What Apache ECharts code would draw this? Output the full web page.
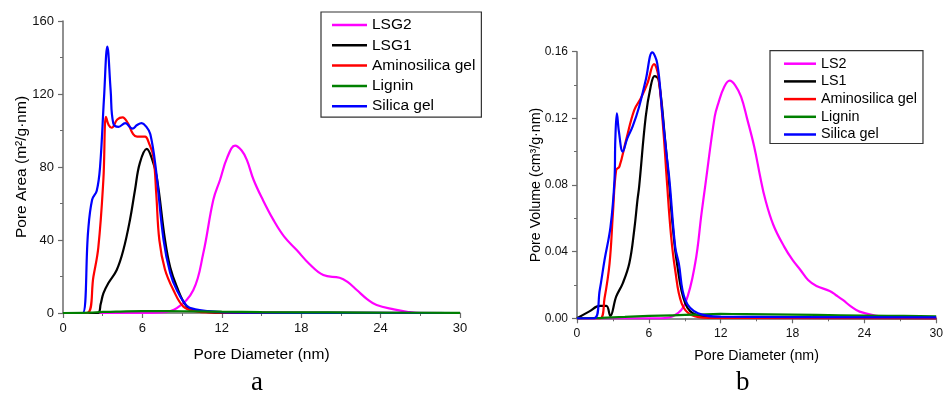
<!DOCTYPE html>
<html>
<head>
<meta charset="utf-8">
<script src="https://cdn.jsdelivr.net/npm/echarts@6/dist/echarts.min.js"></script>
<style>html,body{margin:0;padding:0;background:#fff}#c{width:946px;height:396px}</style>
</head>
<body>
<div id="c"></div>
<script>
// Panel a: Pore Area (m²/g·nm) vs Pore Diameter (nm), points [x, y]
const areaLSG2 = [[0,0],[6,0],[7.5,0.3],[8.6,2.7],[9.85,12.6],[10.6,32.7],[11.36,62],[11.87,73],[12.4,85],[13.0,91.7],[13.5,89],[13.9,83.8],[14.4,73],[15.1,62],[15.9,51],[16.7,42],[17.66,34.5],[18.6,27],[19.67,20.8],[20.9,19.3],[21.5,17],[22.2,12.6],[23.0,7.5],[23.7,4.4],[25,2],[26,0.7],[27,0],[30,0]];
const areaLSG1 = [[0,0],[2.62,0],[2.85,5],[3.05,10.8],[3.42,16.3],[4.06,23.6],[4.56,34.5],[5.06,51],[5.44,67.4],[5.8,82],[6.33,89.9],[6.7,85],[7.08,74.7],[7.71,40],[8.1,25],[8.6,14.4],[9.35,3.5],[10,1.5],[11,0.5],[12,0.2],[30,0]];
const areaAmino = [[0,0],[1.81,0],[2.3,20],[2.67,36],[3.05,73],[3.25,107.5],[3.45,103],[3.68,101.5],[4.1,106],[4.5,107.2],[4.9,104],[5.3,98],[5.6,96.6],[6.2,96.6],[6.5,93],[6.83,85.6],[7.05,65],[7.28,40],[7.7,24],[8.34,12.6],[9.1,3.5],[10,1],[11,0.3],[30,0]];
const areaLignin = [[0,0],[2,0.2],[3,0.6],[4,0.7],[6,1.0],[8,1.0],[10,0.9],[12,0.7],[15,0.5],[20,0.3],[25,0.15],[30,0.1]];
const areaSilica = [[0,0],[1.0,0],[1.49,0],[1.9,45],[2.2,62],[2.55,67],[2.8,80],[3.1,118],[3.35,146],[3.6,122],[3.8,104],[4.2,102],[4.7,104],[5.25,101],[5.6,103],[5.95,104],[6.3,102],[6.6,98],[7.0,80],[7.6,40],[8.1,22],[8.6,12.6],[9.35,4],[10,2],[11,1],[12,0.5],[15,0.2],[20,0.05],[30,0]];

// Panel b: Pore Volume (cm³/g·nm) vs Pore Diameter (nm)
const volLS2 = [[0,0],[7,0],[8.2,0.002],[9.04,0.009],[9.87,0.033],[10.4,0.063],[10.7,0.079],[11.5,0.121],[11.8,0.129],[12.3,0.139],[12.75,0.1426],[13.2,0.140],[13.7,0.133],[14.2,0.12],[14.8,0.103],[15.3,0.085],[15.7,0.072],[16.4,0.056],[17.3,0.043],[18.0,0.035],[18.66,0.029],[19.3,0.023],[20.0,0.0194],[21.1,0.0164],[21.6,0.014],[22.2,0.011],[22.9,0.007],[23.6,0.004],[25,0.0015],[26,0.0005],[30,0]];
const volLS1 = [[0,0],[1.0,0.004],[1.9,0.0074],[2.45,0.0074],[2.78,0.0014],[3.27,0.013],[3.82,0.021],[4.37,0.033],[4.78,0.053],[5.05,0.071],[5.19,0.079],[5.74,0.121],[6.15,0.139],[6.48,0.1454],[6.82,0.143],[7.36,0.107],[7.67,0.083],[8.0,0.055],[8.35,0.033],[9.04,0.009],[10,0.002],[12,0.0005],[30,0]];
const volAmino = [[0,0],[1.9,0],[2.3,0.012],[2.72,0.033],[3.0,0.063],[3.27,0.089],[3.54,0.091],[4.1,0.107],[4.78,0.125],[5.33,0.132],[5.88,0.141],[6.43,0.1526],[6.8,0.145],[7.23,0.111],[7.5,0.083],[7.85,0.05],[8.2,0.029],[8.74,0.009],[9.56,0.002],[11,0.0003],[30,0]];
const volLignin = [[0,0],[2,0.0003],[4,0.0008],[6,0.0014],[8,0.0018],[10,0.0022],[12,0.0026],[14,0.0025],[18,0.0022],[22,0.0018],[26,0.0015],[30,0.0012]];
const volSilica = [[0,0],[1.43,0],[1.9,0.017],[2.3,0.035],[2.8,0.055],[3.13,0.083],[3.2,0.107],[3.33,0.123],[3.5,0.112],[3.82,0.100],[4.2,0.108],[4.64,0.115],[5.19,0.127],[5.74,0.143],[6.29,0.1596],[6.7,0.153],[7.1,0.125],[7.45,0.1],[7.72,0.083],[8.2,0.043],[8.5,0.033],[9.04,0.011],[10.1,0.003],[12,0.001],[30,0.0005]];

const legendA = ['LSG2','LSG1','Aminosilica gel','Lignin','Silica gel'];
const legendB = ['LS2','LS1','Aminosilica gel','Lignin','Silica gel'];
const colors = {LSG2:'#ff00ff',LS2:'#ff00ff',LSG1:'#000000',LS1:'#000000','Aminosilica gel':'#ff0000','Lignin':'#008000','Silica gel':'#0000ff'};

const axisCol = '#6b6b6b';
const font = 'Liberation Sans, Arial, sans-serif';
function xAxis(gi, nameGap, nameSize, labelSize){
  return {type:'value', gridIndex:gi, min:0, max:30, interval:6,
    name:'Pore Diameter (nm)', nameLocation:'middle', nameGap:nameGap,
    nameTextStyle:{fontFamily:font, fontSize:nameSize, color:'#000'},
    axisLine:{lineStyle:{color:axisCol, width:1.5}},
    axisTick:{length:5, lineStyle:{color:axisCol, width:1.2}},
    minorTick:{show:true, splitNumber:2, length:3, lineStyle:{color:axisCol, width:1}},
    axisLabel:{fontFamily:font, fontSize:labelSize, color:'#111', margin:9},
    splitLine:{show:false}};
}
function yAxis(gi, name, max, interval, nameGap, nameSize, labelSize, fmt){
  return {type:'value', gridIndex:gi, min:0, max:max, interval:interval,
    name:name, nameLocation:'middle', nameGap:nameGap, nameMoveOverlap:false,
    nameTextStyle:{fontFamily:font, fontSize:nameSize, color:'#000'},
    axisLine:{show:true, lineStyle:{color:axisCol, width:1.5}},
    axisTick:{show:true, length:5, lineStyle:{color:axisCol, width:1.2}},
    minorTick:{show:true, splitNumber:2, length:3, lineStyle:{color:axisCol, width:1}},
    axisLabel:{fontFamily:font, fontSize:labelSize, color:'#111', margin:9, formatter:fmt},
    splitLine:{show:false}};
}
function ser(name, data, gi){
  return {type:'line', name:name, xAxisIndex:gi, yAxisIndex:gi, data:data,
    showSymbol:false, smooth:0.4,
    lineStyle:{color:colors[name], width:2.2}, itemStyle:{color:colors[name]}};
}

const chart = echarts.init(document.getElementById('c'), null, {renderer:'canvas'});
chart.setOption({
  animation:false,
  backgroundColor:'#fff',
  grid:[
    {left:63, top:21, width:397, height:292},
    {left:577, top:51.7, width:364, height:266.6}
  ],
  xAxis:[xAxis(0, 34, 15.5, 13), xAxis(1, 31, 14.2, 12.2)],
  yAxis:[
    yAxis(0, 'Pore Area (m²/g·nm)', 160, 40, 33, 15.5, 13, v=>String(v)),
    yAxis(1, 'Pore Volume (cm³/g·nm)', 0.16, 0.04, 34, 14.2, 12, v=>v.toFixed(2))
  ],
  legend:[
    {data:legendA, orient:'vertical', left:321, top:12, width:161,
     padding:[5,6,3,11], itemGap:4.3, itemWidth:35, itemHeight:2.5, icon:'rect',
     borderColor:'#333', borderWidth:1.2, itemStyle:{borderWidth:0},
     textStyle:{fontFamily:font, fontSize:15.5, color:'#000'}},
    {data:legendB, orient:'vertical', left:770, top:50.7,
     padding:[6,6,2,14], itemGap:3.7, itemWidth:32, itemHeight:2.5, icon:'rect',
     borderColor:'#333', borderWidth:1.2, itemStyle:{borderWidth:0},
     textStyle:{fontFamily:font, fontSize:14.4, color:'#000'}}
  ],
  title:[
    {text:'a', left:246, top:364, textStyle:{fontFamily:'Liberation Serif, Times New Roman, serif', fontSize:27, fontWeight:'normal', color:'#000'}},
    {text:'b', left:731, top:364, textStyle:{fontFamily:'Liberation Serif, Times New Roman, serif', fontSize:27, fontWeight:'normal', color:'#000'}}
  ],
  series:[
    ser('LSG2', areaLSG2, 0), ser('LSG1', areaLSG1, 0), ser('Aminosilica gel', areaAmino, 0),
    ser('Silica gel', areaSilica, 0), ser('Lignin', areaLignin, 0),
    ser('LS2', volLS2, 1), ser('LS1', volLS1, 1), ser('Aminosilica gel', volAmino, 1),
    ser('Lignin', volLignin, 1), ser('Silica gel', volSilica, 1)
  ]
});
</script>
</body>
</html>
